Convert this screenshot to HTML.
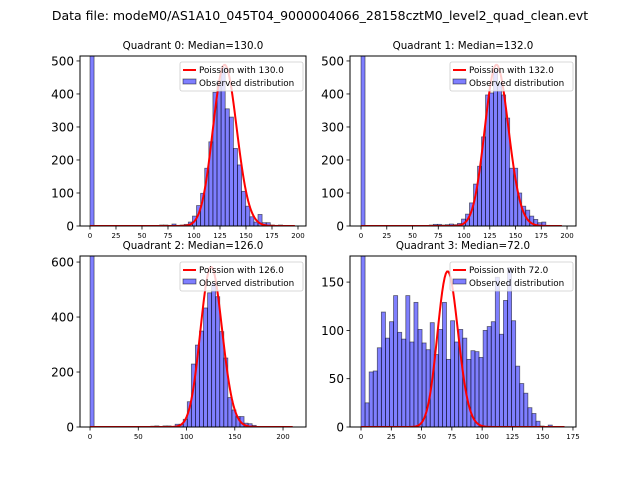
<!DOCTYPE html>
<html><head><meta charset="utf-8"><style>
body{margin:0;background:#fff;}
svg{display:block;font-family:"DejaVu Sans","Liberation Sans",sans-serif;}
</style></head><body>
<svg id="fig" width="640" height="480" viewBox="0 0 640 480">
<text x="320" y="20" text-anchor="middle" font-size="12.5">Data file: modeM0/AS1A10_045T04_9000004066_28158cztM0_level2_quad_clean.evt</text>
</svg>
<script>
// Quadrant 0
const q0Counts = [1200,0,0,0,0,0,0,0,0,0,0,0,0,0,0,0,0,3,3,2,6,2,3,5,12,30,62,99,175,255,405,440,480,355,330,235,185,105,60,28,12,35,10,10,3,2,3,1,1,0];
const q0Median = 130.0, q0Peak = 488;
// Quadrant 1
const q1Counts = [1200,0,0,0,0,0,0,0,0,0,0,0,0,0,0,0,0,3,5,5,3,4,6,4,8,21,36,70,127,181,270,397,403,470,433,397,327,175,175,100,60,48,30,20,10,12,2,0,0,0];
const q1Median = 132.0, q1Peak = 488;
// Quadrant 2
const q2Counts = [1200,0,0,0,0,0,0,0,0,0,0,0,0,0,0,3,4,0,4,4,0,10,10,28,92,229,298,349,433,488,523,474,347,251,107,62,38,38,14,12,6,0,0,0,0,0,0,0,0,0];
const q2Median = 126.0, q2Peak = 582;
// Quadrant 3
const q3Counts = [300,25,57,58,82,119,92,109,136,98,91,136,88,129,101,87,80,108,75,101,129,70,110,88,101,92,70,79,78,72,100,104,109,155,96,131,165,110,63,45,35,20,14,6,1,0,2,0,0,0];
const q3Median = 72.0, q3Peak = 161;
const q0Ticks=[0,25,50,75,100,125,150,175,200], q0YTicks=[0,100,200,300,400,500];
const q2Ticks=[0,50,100,150,200], q2YTicks=[0,200,400,600];
const q3Ticks=[0,25,50,75,100,125,150,175], q3YTicks=[0,50,100,150];

const NS="http://www.w3.org/2000/svg";
const svg=document.getElementById('fig');
function mk(tag,attrs,parent){const e=document.createElementNS(NS,tag);for(const k in attrs)e.setAttribute(k,attrs[k]);(parent||svg).appendChild(e);return e;}
function lfact(k){let s=0;for(let i=2;i<=k;i++)s+=Math.log(i);return s;}

function panel(idx,o){
  const g=mk('g',{});
  
  
  const X=v=>o.L+(v-o.xmin)/(o.xmax-o.xmin)*o.W;
  const Y=v=>o.T+o.H-v/o.ymax*o.H;
  const clip=mk('clipPath',{id:'c'+idx},g);
  mk('rect',{x:o.L,y:o.T,width:o.W,height:o.H},clip);
  const bars=mk('g',{'clip-path':'url(#c'+idx+')'},g);
  o.counts.forEach((c,i)=>{
    if(c<=0)return;
    const x0=X(i*o.bw),x1=X((i+1)*o.bw);
    const r=mk('rect',{x:x0,y:Y(c),width:x1-x0,height:Y(0)-Y(c),fill:'rgba(0,0,255,0.5)',stroke:'rgba(0,0,0,0.55)','stroke-width':0.8},bars);
    
    
  });
  const mu=o.mu;const ref=mu*Math.log(mu)-mu-lfact(Math.round(mu));
  let d='';
  for(let k=0;k<=o.cmax;k++){
    const lp=(k===0?-mu:k*Math.log(mu)-mu-lfact(k))-ref;
    const v=o.peak*Math.exp(lp);
    d+=(k?'L':'M')+X(k).toFixed(2)+','+Y(v).toFixed(2);
  }
  const p=mk('path',{d:d,fill:'none',stroke:'red','stroke-width':2,'stroke-linejoin':'round'},bars);
  
  
  mk('rect',{x:o.L,y:o.T,width:o.W,height:o.H,fill:'none',stroke:'#000','stroke-width':1},g);
  o.xt.forEach(t=>{const x=X(t);mk('line',{x1:x,x2:x,y1:o.T+o.H,y2:o.T+o.H+3.5,stroke:'#000','stroke-width':0.8},g);
    const tx=mk('text',{x:x,y:o.T+o.H+12,'text-anchor':'middle','font-size':7},g);tx.textContent=t;
    
    });
  o.yt.forEach(t=>{const y=Y(t);mk('line',{x1:o.L-3.5,x2:o.L,y1:y,y2:y,stroke:'#000','stroke-width':0.8},g);
    const tx=mk('text',{x:o.L-6,y:y+4.5,'text-anchor':'end','font-size':12},g);tx.textContent=t;
    
    });
  const ti=mk('text',{x:o.L+o.W/2,y:o.T-7,'text-anchor':'middle','font-size':10.3},g);
  ti.textContent='Quadrant '+idx+': Median='+o.mu.toFixed(1);
  
  
  const lg=mk('g',{},g);
  
  
  const lx=o.L+o.W-126,ly=o.T+6;
  mk('rect',{x:lx,y:ly,width:123,height:29,rx:2,fill:'rgba(255,255,255,0.8)',stroke:'#ccc','stroke-width':0.8},lg);
  mk('line',{x1:lx+3,x2:lx+16,y1:ly+8,y2:ly+8,stroke:'red','stroke-width':2},lg);
  const t1=mk('text',{x:lx+19,y:ly+11,'font-size':8.8},lg);t1.textContent='Poission with '+o.mu.toFixed(1);
  mk('rect',{x:lx+3,y:ly+17,width:13,height:5,fill:'rgba(0,0,255,0.5)',stroke:'rgba(0,0,0,0.55)','stroke-width':0.8},lg);
  const t2=mk('text',{x:lx+19,y:ly+24,'font-size':8.8},lg);t2.textContent='Observed distribution';
}
panel(0,{L:80,T:56,W:226,H:170,xmin:-9.6,xmax:207.7,ymax:515,bw:3.94,counts:q0Counts,mu:q0Median,peak:q0Peak,cmax:197,xt:q0Ticks,yt:q0YTicks});
panel(1,{L:350,T:56,W:226,H:170,xmin:-10.7,xmax:208.7,ymax:515,bw:3.9,counts:q1Counts,mu:q1Median,peak:q1Peak,cmax:195,xt:q0Ticks,yt:q0YTicks});
panel(2,{L:80,T:256,W:226,H:171,xmin:-10.4,xmax:223.8,ymax:622,bw:4.2,counts:q2Counts,mu:q2Median,peak:q2Peak,cmax:210,xt:q2Ticks,yt:q2YTicks});
panel(3,{L:350,T:256,W:226,H:171,xmin:-9.1,xmax:177.5,ymax:177,bw:3.36,counts:q3Counts,mu:q3Median,peak:q3Peak,cmax:168,xt:q3Ticks,yt:q3YTicks});
</script>
</body></html>
